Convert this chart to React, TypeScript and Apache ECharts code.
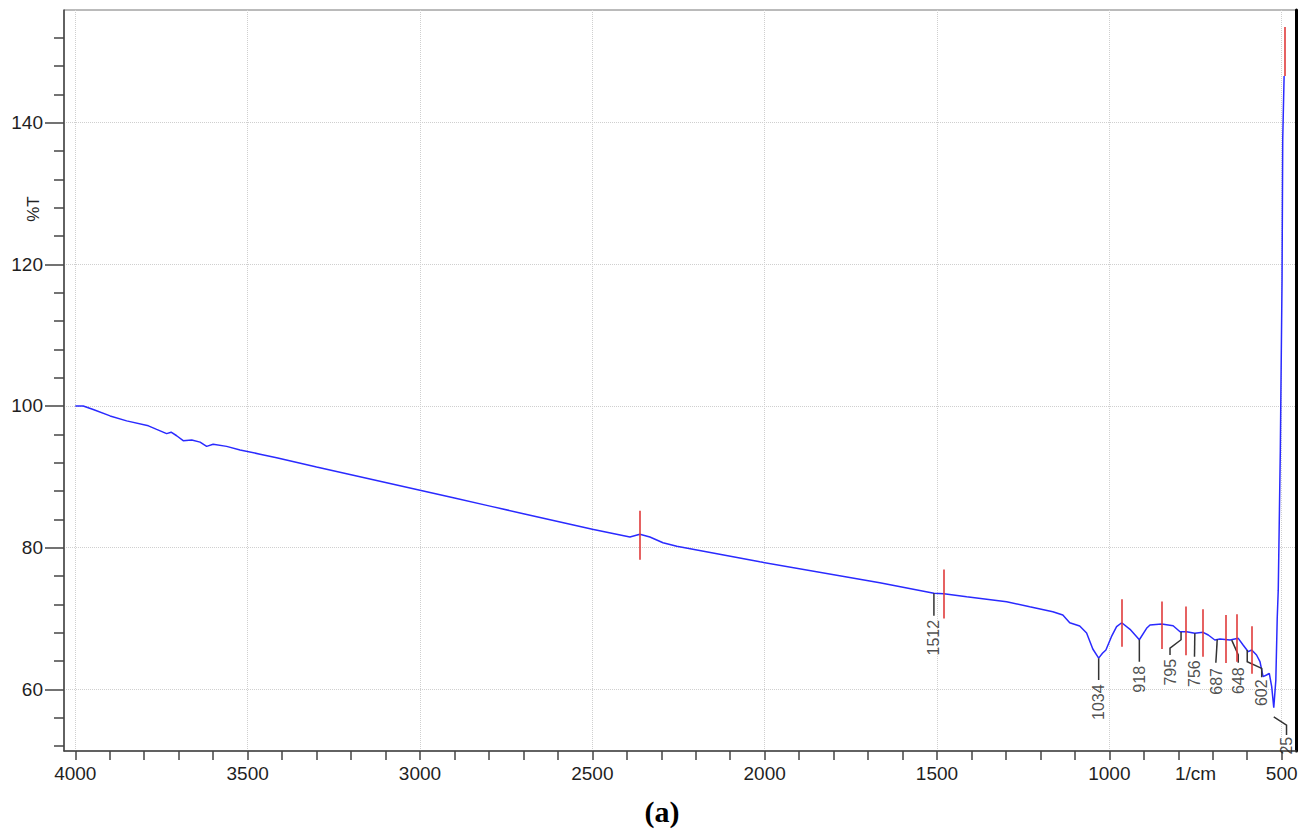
import React, { useEffect, useRef } from 'react';
import * as echarts from 'echarts';

// Spectrum (wavenumber in 1/cm, transmittance in %T)
const wavenumber = [
  4000, 3977, 3948, 3899, 3851, 3788, 3764, 3735, 3722, 3706, 3687, 3662, 3638, 3619, 3600, 3561,
  3522, 3464, 3416, 3300, 3200, 3100, 3000, 2900, 2800, 2700, 2600, 2500, 2391, 2362, 2333, 2295,
  2255, 2014, 1666, 1509, 1480, 1414, 1298, 1231, 1164, 1135, 1115, 1086, 1066, 1048, 1031, 1020,
  1010, 994, 979, 964, 940, 913, 892, 882, 848, 815, 795, 776, 752, 728, 713, 694, 679, 650, 626,
  612, 597, 587, 573, 563, 554, 544, 536, 529, 523, 517, 513, 510, 504, 499, 497, 493,
];
const transmittance = [
  100.0, 100.0, 99.5, 98.6, 97.9, 97.2, 96.7, 96.1, 96.3, 95.8, 95.1, 95.2, 94.9, 94.3, 94.6, 94.3,
  93.8, 93.2, 92.7, 91.4, 90.3, 89.2, 88.1, 87.0, 85.9, 84.8, 83.7, 82.6, 81.5, 81.9, 81.5, 80.7,
  80.2, 78.0, 75.05, 73.55, 73.5, 73.07, 72.37, 71.66, 70.96, 70.49, 69.4, 68.94, 67.95, 65.69, 64.4, 65.08,
  65.55, 67.43, 68.84, 69.4, 68.47, 67.0, 68.61, 69.08, 69.22, 68.98, 68.13, 68.13, 67.9, 68.05, 67.67, 66.96, 67.1, 66.96, 67.2,
  66.25, 65.31, 65.55, 64.84, 63.9, 61.78, 62.02, 62.26, 60.37, 57.4, 61.3, 70.0, 74.0, 93.7, 117.8, 137.6, 146.6,
];

// Red peak markers
const markerX = [2362, 1480, 964, 848, 778, 729, 662, 629, 586, 491];
const markerLow = [78.3, 70.0, 66.0, 65.7, 64.8, 64.6, 63.7, 63.9, 62.2, 146.6];
const markerHigh = [85.2, 76.9, 72.7, 72.4, 71.7, 71.3, 70.5, 70.6, 68.9, 153.5];

// Peak labels with leader lines
const peakNames = ['1512', '1034', '918', '795', '756', '687', '648', '602', '25'];
const leaderPaths: number[][][] = [
  [[1509, 73.55], [1509, 70.4]],
  [[1031, 64.4], [1031, 61.3]],
  [[913, 67.0], [913, 63.9]],
  [[792, 68.1], [792, 67.0], [824, 65.8], [824, 64.85]],
  [[752, 67.9], [753, 64.6]],
  [[687, 67.05], [691, 63.75]],
  [[645, 66.95], [626, 64.85], [626, 63.75]],
  [[600, 65.55], [600, 63.9], [558, 62.95], [558, 61.7]],
  [[523, 56.1], [486, 54.95], [486, 53.55]],
];
const labelX = [1509, 1031, 913, 824, 753, 690, 626, 558, 486];
const labelY = [69.8, 60.7, 63.3, 64.3, 64.1, 63.0, 63.1, 61.4, 53.3];

// Axes
const xMin = 458.5;
const xMax = 4032.8;
const yMin = 51.29;
const yMax = 155.91;
const xMajorValues = [500, 1000, 1500, 2000, 2500, 3000, 3500, 4000];
const xLabelValues = [500, 750, 1000, 1500, 2000, 2500, 3000, 3500, 4000];
const yMajorValues = [60, 80, 100, 120, 140];
const xUnitValue = 750;

const FONT = "'Liberation Sans', Arial, sans-serif";

export default function App() {
  const ref = useRef<HTMLDivElement>(null);

  useEffect(() => {
    if (!ref.current) return;
    const chart = echarts.init(ref.current, null, { renderer: 'svg' });
    const axisColor = '#444';
    const option: any = {
      animation: false,
      backgroundColor: '#ffffff',
      grid: { left: 64, right: 10, top: 10, bottom: 83, show: true, borderColor: '#777', borderWidth: 1 },
      xAxis: {
        type: 'value',
        inverse: true,
        min: xMin,
        max: xMax,
        splitNumber: 7,
        minInterval: 500,
        maxInterval: 500,
        axisLine: { show: true, onZero: false, lineStyle: { color: axisColor, width: 1.5 } },
        axisTick: { show: true, length: 9, customValues: xMajorValues, lineStyle: { color: axisColor, width: 1.5 } },
        minorTick: { show: true, splitNumber: 5, length: 9, lineStyle: { color: axisColor, width: 1.5 } },
        axisLabel: {
          customValues: xLabelValues,
          formatter: (v: number) => (v === xUnitValue ? '1/cm' : String(v)),
          fontSize: 19,
          color: '#1f1f1f',
          margin: 13,
          fontFamily: FONT,
        },
        splitLine: { show: true, lineStyle: { color: '#cfcfcf', type: 'dotted', width: 1 } },
      },
      yAxis: [
        {
          type: 'value',
          min: yMin,
          max: yMax,
          splitNumber: 5,
          minInterval: 20,
          maxInterval: 20,
          axisLine: { show: true, onZero: false, lineStyle: { color: axisColor, width: 1.5 } },
          axisTick: { show: true, length: 19, customValues: yMajorValues, lineStyle: { color: axisColor, width: 1.5 } },
          minorTick: { show: true, splitNumber: 5, length: 10, lineStyle: { color: axisColor, width: 1.5 } },
          axisLabel: {
            customValues: yMajorValues,
            formatter: (v: number) => String(v),
            fontSize: 19,
            color: '#1f1f1f',
            margin: 21,
            fontFamily: FONT,
          },
          splitLine: { show: true, lineStyle: { color: '#cfcfcf', type: 'dotted', width: 1 } },
        },
        {
          type: 'value',
          position: 'right',
          min: yMin,
          max: yMax,
          axisLine: { show: true, onZero: false, lineStyle: { color: '#000', width: 3 } },
          axisTick: { show: false },
          axisLabel: { show: false },
          splitLine: { show: false },
        },
      ],
      series: [
        {
          type: 'line',
          data: wavenumber.map((w, i) => [w, transmittance[i]]),
          showSymbol: false,
          symbol: 'none',
          lineStyle: { color: '#2a2aff', width: 1.5 },
          z: 3,
        },
        {
          type: 'lines',
          coordinateSystem: 'cartesian2d',
          polyline: true,
          data: leaderPaths.map((p) => ({ coords: p })),
          lineStyle: { color: '#333', width: 1.5, opacity: 1 },
          z: 4,
        },
        {
          type: 'lines',
          coordinateSystem: 'cartesian2d',
          data: markerX.map((x, i) => ({ coords: [[x, markerLow[i]], [x, markerHigh[i]]] })),
          lineStyle: { color: '#e03a3a', width: 1.6, opacity: 1 },
          z: 5,
        },
        {
          type: 'scatter',
          data: labelX.map((x, i) => ({ value: [x, labelY[i]], name: peakNames[i] })),
          symbol: 'circle',
          symbolSize: 1,
          itemStyle: { color: 'rgba(0,0,0,0)' },
          label: {
            show: true,
            position: 'inside',
            formatter: '{b}',
            rotate: 90,
            align: 'right',
            verticalAlign: 'middle',
            fontSize: 16,
            color: '#222',
            fontFamily: "'Liberation Sans Narrow', 'Arial Narrow', 'Liberation Sans', sans-serif",
          },
          z: 6,
        },
      ],
      graphic: [
        {
          type: 'text',
          x: 33,
          y: 209,
          rotation: Math.PI / 2,
          style: { text: '%T', fontSize: 17, fill: '#222', font: `17px ${FONT}`, align: 'center', verticalAlign: 'middle' },
        },
        {
          type: 'text',
          x: 662,
          y: 811,
          style: {
            text: '(a)',
            font: "bold 30px 'Liberation Serif', 'Times New Roman', serif",
            fill: '#000',
            align: 'center',
            verticalAlign: 'middle',
          },
        },
      ],
    };
    chart.setOption(option);
    return () => chart.dispose();
  }, []);

  return (
    <div
      ref={ref}
      style={{ position: 'absolute', left: 0, top: 0, width: 1306, height: 834, background: '#fff' }}
    />
  );
}
